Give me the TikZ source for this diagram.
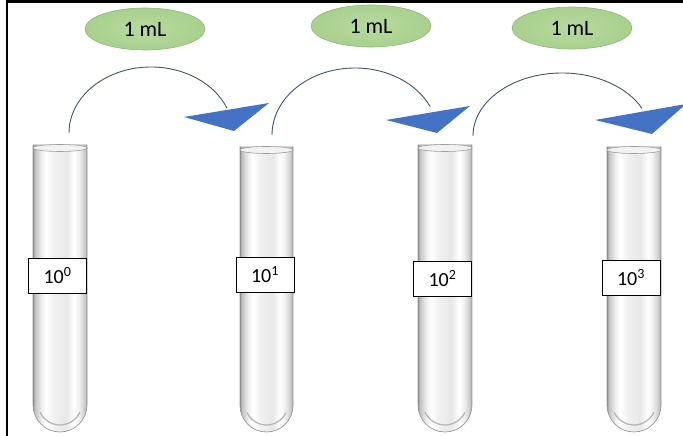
\documentclass[tikz,border=0pt]{standalone}
\usepackage{fontspec}
\setmainfont{Carlito}
\usetikzlibrary{shapes.geometric}

\definecolor{volgreen}{HTML}{A9D08E}
\definecolor{volgreenin}{HTML}{B7DA9F}
\definecolor{volgreenedge}{HTML}{8DB873}
\definecolor{arcline}{HTML}{44546A}
\definecolor{arrowblue}{HTML}{4472C4}

% glass look of a test tube: darker rims, bright stripes inside
\pgfdeclarehorizontalshading{glass}{100bp}{%
  color(0bp)=(black!45);
  color(25bp)=(black!45);
  color(26.5bp)=(black!25);
  color(29bp)=(black!17);
  color(33bp)=(black!6);
  color(37bp)=(white);
  color(45bp)=(black!6);
  color(56bp)=(black!9);
  color(63bp)=(white);
  color(68bp)=(black!7);
  color(72bp)=(black!18);
  color(74bp)=(black!28);
  color(75bp)=(black!42);
  color(100bp)=(black!42)}

\tikzset{
  volume/.style={ellipse, draw=volgreenedge, line width=0.6pt,
    inner color=volgreenin, outer color=volgreen,
    minimum width=120pt, minimum height=42pt, inner sep=0pt,
    font=\fontsize{22}{24}\selectfont},
  dilution/.style={draw=black, line width=0.8pt, fill=white,
    minimum width=58pt, minimum height=35pt, inner sep=0pt,
    font=\fontsize{20}{22}\selectfont},
  transfer/.style={draw=arcline, line width=0.9pt},
  wedge/.style={fill=arrowblue},
  tubeglass/.style={shading=glass, draw=black!40, line width=0.7pt},
  tuberim/.style={fill=black!5, draw=black!38, line width=0.6pt},
  tubebase/.style={draw=black!28, line width=1.3pt}
}

\begin{document}
\begin{tikzpicture}[x=1pt, y=1pt]
\useasboundingbox (0,0) rectangle (683,436);

% frame
\draw[line width=2.2pt] (7,0) -- (7,434.5) -- (684,434.5);

% test tubes
\foreach \tx/\tw/\tt in {33/54/291, 240/53/289, 418/54/291, 607/54/289}{
  \pgfmathsetmacro{\tr}{\tw/2}
  \pgfmathsetmacro{\tc}{\tx+\tr}
  \path[tubeglass] (\tx,\tt) -- (\tx,4+\tr)
     arc[start angle=180, end angle=360, radius=\tr pt] -- (\tx+\tw,\tt) -- cycle;
  \draw[tubebase] (\tc,6+\tr) ++(205:\tr-5) arc[start angle=205, end angle=335, radius=\tr-5];
  \draw[tuberim] (\tc,\tt-3) ellipse[x radius=\tr pt, y radius=3.5pt];
}

% dilution labels
\node[dilution] (d0) at (57.5,160.5) {10\textsuperscript{0}};
\node[dilution] (d1) at (265,161.5) {10\textsuperscript{1}};
\node[dilution] (d2) at (442.5,157.5) {10\textsuperscript{2}};
\node[dilution] (d3) at (631,158.5) {10\textsuperscript{3}};

% transferred volumes
\node[volume] (v1) at (145,407) {1 mL};
\node[volume] (v2) at (371,410) {1 mL};
\node[volume] (v3) at (572,408) {1 mL};

% transfer arcs
\coordinate (s1) at (69,303);
\coordinate (s2) at (272,301);
\coordinate (s3) at (473,300);
\draw[transfer] (s1) arc[start angle=180, end angle=22, x radius=82pt, y radius=66pt] coordinate (e1);
\draw[transfer] (s2) arc[start angle=180, end angle=25, x radius=83pt, y radius=67pt] coordinate (e2);
\draw[transfer] (s3) arc[start angle=180, end angle=26, x radius=89pt, y radius=63pt] coordinate (e3);

% wedge heads
\coordinate (h1a) at (184,319); \coordinate (h1b) at (269,333); \coordinate (h1c) at (234,305);
\coordinate (h2a) at (386,316); \coordinate (h2b) at (470,330); \coordinate (h2c) at (437,303);
\coordinate (h3a) at (595,316); \coordinate (h3b) at (686,332); \coordinate (h3c) at (652,302);
\fill[wedge] (h1a) -- (h1b) -- (h1c) -- cycle;
\fill[wedge] (h2a) -- (h2b) -- (h2c) -- cycle;
\fill[wedge] (h3a) -- (h3b) -- (h3c) -- cycle;
\end{tikzpicture}
\end{document}
